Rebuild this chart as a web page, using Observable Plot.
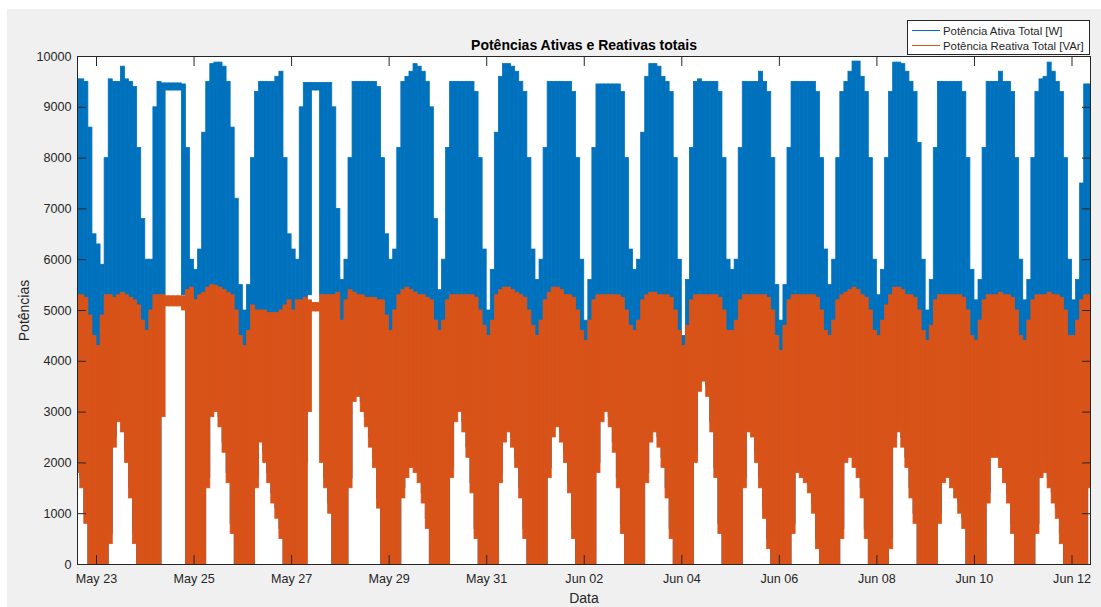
<!DOCTYPE html>
<html><head><meta charset="utf-8">
<script src="https://cdn.jsdelivr.net/npm/d3@7"></script>
<script src="https://cdn.jsdelivr.net/npm/@observablehq/plot@0.6"></script>
<style>
html,body{margin:0;padding:0;background:#fff;}
#wrap{position:relative;width:1101px;height:607px;overflow:hidden;font-family:"Liberation Sans",Arial,sans-serif;}
#bg{position:absolute;left:7px;top:9px;right:0;bottom:0;background:#f0f0f0;}
#chart{position:absolute;left:0;top:0;}
#legend{position:absolute;left:907px;top:20px;width:181px;height:33px;background:#fff;border:1px solid #262626;box-sizing:content-box;font-size:11.4px;color:#262626;}
#legend .row{position:absolute;left:4px;height:14px;line-height:14px;white-space:nowrap;}
#legend .sw{display:inline-block;width:28px;height:1px;vertical-align:middle;margin-right:3px;position:relative;top:-1px;}
</style></head>
<body>
<div id="wrap"><div id="bg"></div><div id="chart"></div>
<div id="legend">
  <div class="row" style="top:3px"><span class="sw" style="background:#0072BD"></span>Potência Ativa Total [W]</div>
  <div class="row" style="top:18px"><span class="sw" style="background:#D95319"></span>Potência Reativa Total [VAr]</div>
</div>
</div>
<script>
// 2-hour bins starting 2020-05-22 14:00 (UTC); per bin: min/max of each series
const binStart = Date.UTC(2020, 4, 22, 14);
const binHours = 2;

// bins per day: 00 02 04 06 08 10 12 14 16 18 20 22 h
const activeHigh = [
  9550, 9550, 9500, 8600, 6500,                                            // May 22 (14h-22h)
  6300, 5900, 8000, 9550, 9500, 9500, 9800, 9550, 9500, 9400, 8200, 6800, // May 23
  6000, 6000, 9000, 9500, 9470, 9470, 9470, 9470, 9470, 9450, 8200, 6000, // May 24
  5800, 6200, 8500, 9500, 9850, 9880, 9880, 9800, 9500, 8600, 7200, 5500, // May 25
  5000, 5500, 8000, 9300, 9500, 9500, 9500, 9500, 9600, 9700, 8000, 6500, // May 26
  6200, 6000, 9000, 9480, 9480, 9480, 9480, 9480, 9480, 9480, 9000, 7000, // May 27
  5600, 6000, 8000, 9500, 9500, 9500, 9500, 9500, 9500, 9400, 8000, 6500, // May 28
  6000, 6200, 8200, 9500, 9600, 9700, 9850, 9800, 9700, 9500, 9000, 6800, // May 29
  5400, 6000, 8200, 9500, 9500, 9500, 9500, 9500, 9500, 9300, 8000, 6200, // May 30
  5000, 5800, 8500, 9600, 9850, 9850, 9800, 9700, 9500, 9300, 8000, 6200, // May 31
  5600, 6000, 8200, 9500, 9500, 9500, 9500, 9500, 9500, 9300, 8000, 6000, // Jun 01
  4800, 5600, 8200, 9450, 9450, 9450, 9450, 9450, 9450, 9300, 8000, 6200, // Jun 02
  5800, 6000, 8500, 9600, 9850, 9850, 9800, 9600, 9500, 9300, 8000, 6000, // Jun 03
  4500, 5600, 8200, 9500, 9550, 9500, 9500, 9500, 9500, 9300, 8000, 6000, // Jun 04
  5800, 6000, 8200, 9500, 9500, 9500, 9500, 9700, 9500, 9300, 8000, 5500, // Jun 05
  4800, 5500, 8200, 9500, 9500, 9500, 9500, 9500, 9500, 9300, 8000, 6200, // Jun 06
  5500, 6000, 8000, 9300, 9500, 9700, 9900, 9900, 9600, 9300, 8000, 6000, // Jun 07
  5300, 5800, 8000, 9300, 9880, 9880, 9850, 9700, 9500, 9300, 8300, 6000, // Jun 08
  5000, 5600, 8200, 9500, 9500, 9500, 9500, 9500, 9500, 9300, 8000, 5800, // Jun 09
  5200, 5600, 8200, 9500, 9500, 9500, 9700, 9500, 9500, 9300, 8000, 6000, // Jun 10
  5200, 5600, 8000, 9300, 9550, 9600, 9880, 9700, 9500, 9300, 8000, 6000, // Jun 11
  5200, 5600, 7500, 9450, 9450                                             // Jun 12 (0h-8h)
];
const activeLow = [
  2000, 1700, 1000, 0, 0,
  0, 0, 0, 600, 2500, 3000, 2800, 2200, 1500, 600, 0, 0,
  0, 0, 0, 0, 5300, 9330, 9330, 9330, 9330, 5300, 0, 0,
  0, 0, 0, 1700, 3100, 3200, 2900, 2400, 1800, 800, 0, 0,
  0, 0, 0, 1700, 2600, 2200, 1800, 1400, 1100, 700, 0, 0,
  0, 0, 0, 2000, 5300, 9330, 9330, 5300, 1700, 1200, 0, 0,
  0, 0, 1700, 3400, 3500, 3200, 2900, 2500, 2100, 1300, 0, 0,
  0, 0, 0, 1500, 1900, 2100, 2000, 1800, 1400, 900, 0, 0,
  0, 0, 0, 1900, 3000, 3200, 2800, 2300, 1600, 700, 0, 0,
  0, 0, 0, 1800, 2600, 2800, 2500, 2100, 1500, 700, 0, 0,
  0, 0, 0, 1900, 2700, 2900, 2600, 2200, 1600, 700, 0, 0,
  0, 0, 0, 2000, 3000, 3200, 2900, 2400, 1700, 800, 0, 0,
  0, 0, 0, 1800, 2600, 2800, 2500, 2100, 1500, 700, 0, 0,
  0, 0, 0, 2200, 3600, 3800, 3500, 2800, 1900, 800, 0, 0,
  0, 0, 0, 1700, 2800, 2700, 2200, 1700, 1100, 500, 0, 0,
  0, 0, 0, 800, 2000, 1900, 1800, 1600, 1200, 500, 0, 0,
  0, 0, 0, 700, 2200, 2300, 2100, 1900, 1500, 700, 0, 0,
  0, 0, 0, 500, 2500, 2800, 2500, 2100, 1500, 1000, 0, 0,
  0, 0, 0, 1000, 1800, 1900, 1700, 1500, 1200, 900, 0, 0,
  0, 0, 0, 1400, 2300, 2300, 2100, 1800, 1400, 800, 0, 0,
  0, 0, 0, 800, 1900, 2000, 1700, 1400, 1100, 600, 0, 0,
  0, 0, 0, 0, 1700
];
const reactiveHigh = [
  5300, 5300, 5250, 4900, 4500,
  4300, 4900, 5300, 5300, 5250, 5300, 5350, 5300, 5250, 5200, 5100, 4800,
  4600, 5000, 5300, 5300, 5300, 5280, 5280, 5280, 5280, 5280, 5400, 5450,
  5200, 5300, 5350, 5450, 5500, 5480, 5450, 5400, 5350, 5300, 5000, 4500,
  4300, 4600, 5100, 5000, 5000, 5000, 4950, 4950, 4950, 5000, 5100, 5200,
  5000, 5200, 5200, 5250, 5200, 5150, 5150, 5300, 5300, 5300, 5300, 5350,
  4800, 5200, 5400, 5350, 5300, 5300, 5250, 5250, 5250, 5200, 5200, 4900,
  4600, 5000, 5300, 5400, 5450, 5400, 5350, 5300, 5300, 5250, 5200, 4800,
  4600, 4800, 5200, 5300, 5300, 5300, 5300, 5300, 5300, 5250, 5000, 4700,
  4500, 4800, 5300, 5400, 5450, 5450, 5400, 5350, 5300, 5250, 5000, 4700,
  4500, 4800, 5200, 5350, 5450, 5450, 5400, 5300, 5300, 5250, 5000, 4600,
  4400, 4800, 5200, 5300, 5300, 5300, 5300, 5300, 5300, 5250, 5000, 4700,
  4600, 4800, 5200, 5300, 5350, 5350, 5300, 5300, 5300, 5250, 5000, 4600,
  4300, 4700, 5200, 5300, 5300, 5300, 5300, 5300, 5300, 5250, 5000, 4600,
  4600, 4800, 5200, 5300, 5300, 5300, 5300, 5300, 5300, 5250, 5000, 4500,
  4200, 4700, 5200, 5300, 5300, 5300, 5300, 5300, 5300, 5250, 5000, 4600,
  4500, 4800, 5200, 5300, 5350, 5400, 5450, 5400, 5300, 5250, 5000, 4600,
  4500, 4800, 5100, 5300, 5450, 5450, 5400, 5300, 5300, 5250, 5000, 4600,
  4400, 4700, 5200, 5300, 5300, 5300, 5300, 5300, 5300, 5250, 5000, 4500,
  4400, 4800, 5200, 5300, 5300, 5300, 5350, 5300, 5300, 5250, 5000, 4500,
  4400, 4800, 5200, 5300, 5300, 5300, 5350, 5300, 5300, 5250, 5000, 4500,
  4500, 4800, 5200, 5300, 5300
];
const reactiveLow = [
  1800, 1500, 800, 0, 0,
  0, 0, 0, 400, 2300, 2800, 2600, 2000, 1300, 400, 0, 0,
  0, 0, 0, 0, 2900, 5080, 5080, 5080, 5080, 5000, 0, 0,
  0, 0, 0, 1500, 2900, 3000, 2700, 2200, 1600, 600, 0, 0,
  0, 0, 0, 1500, 2400, 2000, 1600, 1200, 900, 500, 0, 0,
  0, 0, 0, 0, 3000, 4980, 4980, 2000, 1500, 1000, 0, 0,
  0, 0, 1500, 3200, 3300, 3000, 2700, 2300, 1900, 1100, 0, 0,
  0, 0, 0, 1300, 1700, 1900, 1800, 1600, 1200, 700, 0, 0,
  0, 0, 0, 1700, 2800, 3000, 2600, 2100, 1400, 500, 0, 0,
  0, 0, 0, 1600, 2400, 2600, 2300, 1900, 1300, 500, 0, 0,
  0, 0, 0, 1700, 2500, 2700, 2400, 2000, 1400, 500, 0, 0,
  0, 0, 0, 1800, 2800, 3000, 2700, 2200, 1500, 600, 0, 0,
  0, 0, 0, 1600, 2400, 2600, 2300, 1900, 1300, 500, 0, 0,
  0, 0, 0, 2000, 3400, 3600, 3300, 2600, 1700, 600, 0, 0,
  0, 0, 0, 1500, 2600, 2500, 2000, 1500, 900, 300, 0, 0,
  0, 0, 0, 600, 1800, 1700, 1600, 1400, 1000, 300, 0, 0,
  0, 0, 0, 500, 2000, 2100, 1900, 1700, 1300, 500, 0, 0,
  0, 0, 0, 300, 2300, 2600, 2300, 1900, 1300, 800, 0, 0,
  0, 0, 0, 800, 1600, 1700, 1500, 1300, 1000, 700, 0, 0,
  0, 0, 0, 1200, 2100, 2100, 1900, 1600, 1200, 600, 0, 0,
  0, 0, 0, 600, 1700, 1800, 1500, 1200, 900, 400, 0, 0,
  0, 0, 0, 0, 1500
];

const xTickDates = ["2020-05-23","2020-05-25","2020-05-27","2020-05-29","2020-05-31","2020-06-02",
  "2020-06-04","2020-06-06","2020-06-08","2020-06-10","2020-06-12"];
const yTicks = [0, 1000, 2000, 3000, 4000, 5000, 6000, 7000, 8000, 9000, 10000];
const xDomain = ["2020-05-22T14:39Z", "2020-06-12T09:06Z"];
const titleText = "Potências Ativas e Reativas totais";
const xLabel = "Data";
const yLabel = "Potências";

const H = 3600 * 1000;
const bins = activeHigh.map((_, i) => ({
  t1: new Date(binStart + i * binHours * H),
  t2: new Date(binStart + (i + 1) * binHours * H),
  aHi: activeHigh[i], aLo: activeLow[i], rHi: reactiveHigh[i], rLo: reactiveLow[i]
}));
const xt = xTickDates.map(s => new Date(s + "T00:00Z"));
const axisColor = "#262626";
const blue = "#0072BD", orange = "#D95319";

const chart = Plot.plot({
  width: 1101, height: 607,
  marginLeft: 77, marginRight: 11, marginTop: 56, marginBottom: 43,
  x: {type: "utc", domain: xDomain.map(s => new Date(s))},
  y: {domain: [0, 10000]},
  style: {background: "transparent", fontFamily: "'Liberation Sans', Arial, sans-serif", fontSize: "12.6px", color: axisColor},
  marks: [
    Plot.frame({fill: "white", stroke: null}),
    Plot.rect(bins, {x1: "t1", x2: "t2", y1: "aLo", y2: "aHi", fill: blue, stroke: blue, strokeWidth: 0.8, clip: true}),
    Plot.rect(bins, {x1: "t1", x2: "t2", y1: "rLo", y2: "rHi", fill: orange, stroke: orange, strokeWidth: 0.8, clip: true}),
    Plot.axisX({anchor: "bottom", ticks: xt, tickFormat: d3.utcFormat("%b %d"), tickSize: 0, tickPadding: 10, label: null, fill: axisColor}),
    Plot.axisX({anchor: "bottom", ticks: xt, tickSize: -9, fill: "none", label: null, stroke: axisColor}),
    Plot.axisX({anchor: "top", ticks: xt, tickSize: -9, fill: "none", label: null, stroke: axisColor}),
    Plot.axisY({anchor: "left", ticks: yTicks, tickFormat: d3.format("d"), tickSize: 0, tickPadding: 6, label: null, fill: axisColor}),
    Plot.axisY({anchor: "left", ticks: yTicks, tickSize: -9, fill: "none", label: null, stroke: axisColor}),
    Plot.axisY({anchor: "right", ticks: yTicks, tickSize: -9, fill: "none", label: null, stroke: axisColor}),
    Plot.frame({stroke: axisColor, strokeWidth: 1}),
    Plot.text([titleText], {frameAnchor: "top", textAnchor: "middle", lineAnchor: "bottom", dy: -7, fontWeight: "bold", fontSize: 14, fill: "#000"}),
    Plot.text([xLabel], {frameAnchor: "bottom", textAnchor: "middle", lineAnchor: "bottom", dy: 38, fontSize: 14, fill: axisColor}),
    Plot.text([yLabel], {frameAnchor: "left", textAnchor: "middle", lineAnchor: "middle", rotate: -90, dx: -53, fontSize: 14, fill: axisColor})
  ]
});
document.getElementById("chart").appendChild(chart);
</script>
</body></html>
